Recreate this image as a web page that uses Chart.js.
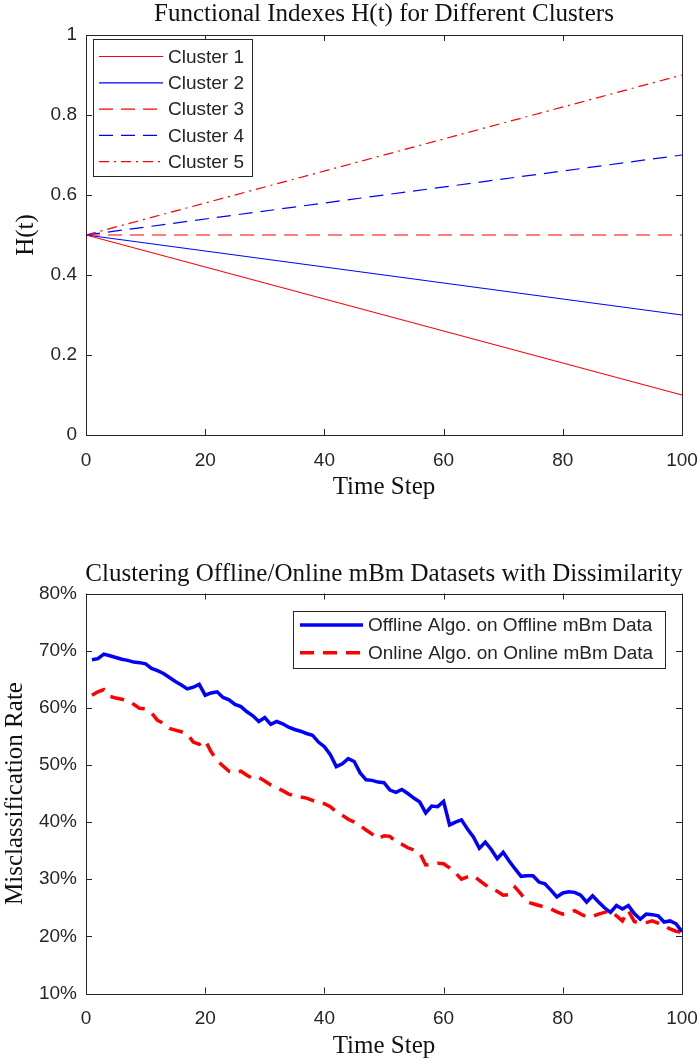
<!DOCTYPE html>
<html>
<head>
<meta charset="utf-8">
<script src="https://cdn.jsdelivr.net/npm/chart.js@4.4.1/dist/chart.umd.min.js"></script>
<style>
  html, body { margin: 0; padding: 0; background: #fff; }
  #wrap { position: relative; width: 700px; height: 1064px; }
  .box { position: absolute; left: 0; width: 700px; height: 532px; }
</style>
</head>
<body>
<div id="wrap">
  <div class="box" style="top:0"><canvas id="topChart" width="700" height="532"></canvas></div>
  <div class="box" style="top:532px"><canvas id="bottomChart" width="700" height="532"></canvas></div>
</div>
<script>
// top plot: H(t) per cluster, straight lines from t=0 to t=100
const hSteps = [0, 100];
const cluster1 = [0.5, 0.1];
const cluster2 = [0.5, 0.3];
const cluster3 = [0.5, 0.5];
const cluster4 = [0.5, 0.7];
const cluster5 = [0.5, 0.9];

// bottom plot: misclassification rate (%) per time step 1..100
const timeSteps = Array.from({ length: 100 }, (_, i) => i + 1);
const offlineRate = [
  68.4, 68.6, 69.4, 69.1, 68.8, 68.5, 68.3, 68.0, 67.9, 67.7,
  66.9, 66.5, 66.0, 65.3, 64.6, 64.0, 63.3, 63.6, 64.1, 62.2,
  62.6, 62.8, 61.8, 61.4, 60.6, 60.2, 59.3, 58.6, 57.6, 58.3,
  57.1, 57.6, 57.2, 56.6, 56.2, 55.9, 55.5, 55.2, 54.0, 53.2,
  51.8, 49.7, 50.2, 51.1, 50.6, 48.6, 47.4, 47.3, 47.0, 46.9,
  45.6, 45.2, 45.7, 45.0, 44.2, 43.5, 41.6, 42.8, 42.7, 43.6,
  39.5, 40.0, 40.4, 38.8, 37.4, 35.4, 36.5, 35.2, 33.6, 34.7,
  33.2, 31.8, 30.5, 30.6, 30.6, 29.5, 29.2, 28.1, 26.9, 27.6,
  27.8, 27.7, 27.2, 26.0, 27.1, 26.0, 25.0, 24.2, 25.4, 24.8,
  25.4, 24.0, 23.0, 23.9, 23.8, 23.6, 22.5, 22.7, 22.2, 20.8
];
const onlineRate = [
  62.2, 62.8, 63.2, 62.0, 61.7, 61.5, 61.2, 60.6, 59.9, 59.8,
  59.1, 57.8, 57.3, 56.4, 56.1, 55.8, 55.4, 54.0, 53.6, 54.3,
  52.3, 50.8, 49.8, 48.9, 48.6, 48.9, 48.2, 47.6, 47.8, 47.2,
  46.5, 46.0, 45.5, 44.9, 44.6, 44.4, 44.2, 43.8, 43.4, 43.2,
  42.7, 41.8, 41.2, 40.5, 40.0, 39.4, 38.6, 37.9, 37.1, 37.6,
  37.5, 36.6, 36.1, 35.5, 35.1, 34.6, 32.5, 32.6, 32.8, 32.7,
  32.0, 31.1, 30.0, 30.4, 30.6, 29.8, 29.0, 28.3, 27.9, 27.2,
  27.3, 28.6, 27.4, 26.0, 25.7, 25.4, 25.1, 24.8, 24.3, 23.9,
  24.1, 24.5, 23.9, 23.4, 23.5, 23.9, 24.2, 24.5, 23.6, 22.7,
  24.5, 22.6, 22.3, 22.4, 22.7, 22.3, 21.8, 21.3, 20.9, 20.7
];

const SANS = '"Liberation Sans", Arial, Helvetica, sans-serif';
const SERIF = '"Liberation Serif", "Times New Roman", serif';
const INK = '#262626';

function pts(xs, ys) {
  return xs.map((x, i) => ({ x: x, y: ys[i] }));
}

// box round the axes with inward ticks on all four sides (matlab style)
const framePlugin = {
  id: 'frame',
  afterDatasetsDraw(chart) {
    const { ctx, chartArea: a } = chart;
    const xs = chart.scales.x, ys = chart.scales.y;
    ctx.save();
    ctx.strokeStyle = INK;
    ctx.lineWidth = 1;
    ctx.beginPath();
    xs.ticks.forEach(t => {
      const px = Math.round(xs.getPixelForValue(t.value)) + 0.5;
      ctx.moveTo(px, a.bottom); ctx.lineTo(px, a.bottom - 6);
      ctx.moveTo(px, a.top); ctx.lineTo(px, a.top + 6);
    });
    ys.ticks.forEach(t => {
      const py = Math.round(ys.getPixelForValue(t.value)) + 0.5;
      ctx.moveTo(a.left, py); ctx.lineTo(a.left + 6, py);
      ctx.moveTo(a.right, py); ctx.lineTo(a.right - 6, py);
    });
    ctx.stroke();
    ctx.strokeRect(Math.round(a.left) + 0.5, Math.round(a.top) + 0.5,
      Math.round(a.right - a.left), Math.round(a.bottom - a.top));
    ctx.restore();
  }
};

// title centred over the axes box
const axesTitlePlugin = {
  id: 'axesTitle',
  afterDraw(chart, args, opts) {
    const { ctx, chartArea: a } = chart;
    ctx.save();
    ctx.font = '25px ' + SERIF;
    ctx.fillStyle = '#111';
    ctx.textAlign = 'center';
    ctx.textBaseline = 'middle';
    ctx.fillText(opts.text, (a.left + a.right) / 2, opts.y);
    ctx.restore();
  }
};

// legend box inside the axes
const boxLegendPlugin = {
  id: 'boxLegend',
  afterDraw(chart, args, opts) {
    const { ctx } = chart;
    ctx.save();
    ctx.fillStyle = '#fff';
    ctx.fillRect(opts.x, opts.y, opts.w, opts.h);
    ctx.strokeStyle = INK;
    ctx.lineWidth = 1;
    ctx.strokeRect(opts.x + 0.5, opts.y + 0.5, opts.w, opts.h);
    ctx.font = opts.fontSize + 'px ' + SANS;
    ctx.textBaseline = 'middle';
    chart.data.datasets.forEach((ds, i) => {
      const y = opts.firstRow + i * opts.rowGap;
      ctx.strokeStyle = ds.borderColor;
      ctx.lineWidth = ds.borderWidth;
      ctx.setLineDash(ds.borderDash || []);
      ctx.beginPath();
      ctx.moveTo(opts.lineX0, y);
      ctx.lineTo(opts.lineX1, y);
      ctx.stroke();
      ctx.setLineDash([]);
      ctx.fillStyle = INK;
      ctx.fillText(ds.label, opts.textX, y + 1);
    });
    ctx.restore();
  }
};

Chart.register(framePlugin, axesTitlePlugin, boxLegendPlugin);

function lineSet(label, xs, ys, color, width, dash) {
  return {
    label: label,
    data: pts(xs, ys),
    borderColor: color,
    backgroundColor: color,
    borderWidth: width,
    borderDash: dash,
    pointRadius: 0,
    tension: 0,
    fill: false
  };
}

// keep tick labels from pushing the axes box inwards
function fixX(h) {
  return s => { s.height = h; s.paddingLeft = 0; s.paddingRight = 0; };
}
function fixY(s) {
  s.width = 86; s.paddingTop = 0; s.paddingBottom = 0;
}

// Create the top chart
new Chart(document.getElementById('topChart'), {
  type: 'line',
  data: {
    datasets: [
      lineSet('Cluster 1', hSteps, cluster1, '#ff0000', 1.2, []),
      lineSet('Cluster 2', hSteps, cluster2, '#0000ff', 1.2, []),
      lineSet('Cluster 3', hSteps, cluster3, '#ff0000', 1.2, [14, 8]),
      lineSet('Cluster 4', hSteps, cluster4, '#0000ff', 1.2, [14, 8]),
      lineSet('Cluster 5', hSteps, cluster5, '#ff0000', 1.2, [10, 5, 2, 5])
    ]
  },
  options: {
    responsive: false,
    animation: false,
    layout: { padding: { top: 35, right: 18, left: 0, bottom: 0 } },
    plugins: {
      legend: { display: false },
      tooltip: { enabled: false },
      axesTitle: { text: 'Functional Indexes H(t) for Different Clusters', y: 14 },
      boxLegend: {
        x: 93, y: 39, w: 159, h: 137, fontSize: 19,
        firstRow: 56.5, rowGap: 26.3, lineX0: 99, lineX1: 163, textX: 168
      }
    },
    scales: {
      x: {
        type: 'linear', min: 0, max: 100,
        afterFit: fixX(97),
        grid: { display: false, drawTicks: false },
        border: { display: false },
        ticks: { stepSize: 20, padding: 14, color: INK, font: { family: SANS, size: 19 } },
        title: { display: true, text: 'Time Step', color: '#111',
          font: { family: SERIF, size: 25 }, padding: { top: 0, bottom: 30 } }
      },
      y: {
        min: 0, max: 1,
        afterFit: fixY,
        grid: { display: false, drawTicks: false },
        border: { display: false },
        ticks: { stepSize: 0.2, padding: 9, color: INK, font: { family: SANS, size: 19 },
          callback: v => String(+v.toFixed(1)) },
        title: { display: true, text: 'H(t)', color: '#111',
          font: { family: SERIF, size: 25 }, padding: { top: 11, bottom: 0 } }
      }
    }
  }
});

// Create the bottom chart
new Chart(document.getElementById('bottomChart'), {
  type: 'line',
  data: {
    datasets: [
      lineSet('Offline Algo. on Offline mBm Data', timeSteps, offlineRate, '#0000ff', 3.5, []),
      lineSet('Online Algo. on Online mBm Data', timeSteps, onlineRate, '#ff0000', 3.5, [14, 9])
    ]
  },
  options: {
    responsive: false,
    animation: false,
    layout: { padding: { top: 61.5, right: 18, left: 0, bottom: 0 } },
    plugins: {
      legend: { display: false },
      tooltip: { enabled: false },
      axesTitle: { text: 'Clustering Offline/Online mBm Datasets with Dissimilarity', y: 42 },
      boxLegend: {
        x: 293, y: 79, w: 372, h: 57, fontSize: 19,
        firstRow: 93, rowGap: 27.7, lineX0: 300, lineX1: 363, textX: 368
      }
    },
    scales: {
      x: {
        type: 'linear', min: 0, max: 100,
        afterFit: fixX(70.5),
        grid: { display: false, drawTicks: false },
        border: { display: false },
        ticks: { stepSize: 20, padding: 14, color: INK, font: { family: SANS, size: 19 } },
        title: { display: true, text: 'Time Step', color: '#111',
          font: { family: SERIF, size: 25 }, padding: { top: 0, bottom: 3 } }
      },
      y: {
        min: 10, max: 80,
        afterFit: fixY,
        grid: { display: false, drawTicks: false },
        border: { display: false },
        ticks: { stepSize: 10, padding: 9, color: INK, font: { family: SANS, size: 19 },
          callback: v => v + '%' },
        title: { display: true, text: 'Misclassification Rate', color: '#111',
          font: { family: SERIF, size: 25 }, padding: { top: 0, bottom: 0 } }
      }
    }
  }
});
</script>
</body>
</html>
